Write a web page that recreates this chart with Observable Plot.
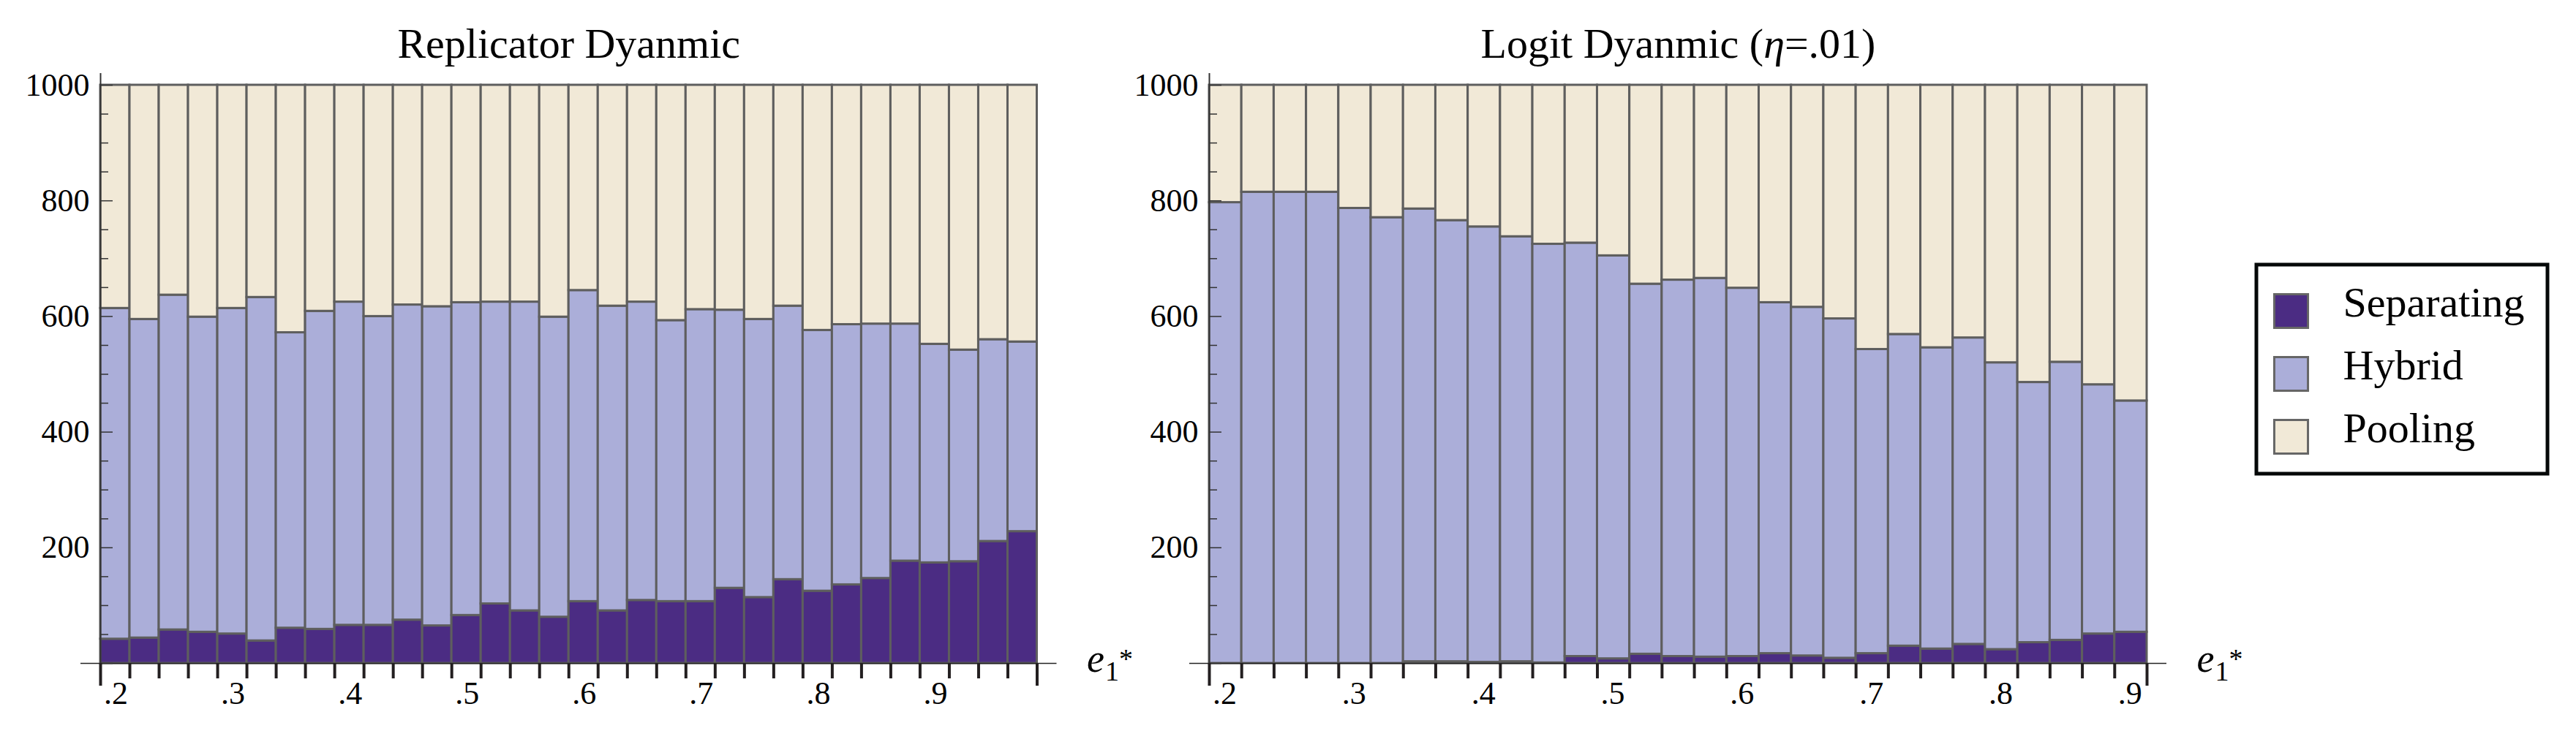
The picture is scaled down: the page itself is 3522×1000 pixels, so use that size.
<!DOCTYPE html>
<html>
<head>
<meta charset="utf-8">
<script src="https://cdn.jsdelivr.net/npm/d3@7"></script>
<script src="https://cdn.jsdelivr.net/npm/@observablehq/plot@0.6"></script>
<style>
  html, body { margin: 0; padding: 0; background: #ffffff; }
  #chart { position: relative; width: 3522px; height: 1000px; background: #ffffff; overflow: hidden; }
  #chart svg { position: absolute; top: 0; }
  #chart svg text { font-family: 'Liberation Serif', 'Times New Roman', Times, serif; }
</style>
</head>
<body>
<div id="chart"></div>
<script>
// ---------- data ----------
const types = ["Separating", "Hybrid", "Pooling"];
const typeColors = ["#4b2c83", "#abaed9", "#f1e9d7"];

const leftTitle = "Replicator Dyanmic";
const leftBinWidth = 0.025;
const leftBins = [0.200, 0.225, 0.250, 0.275, 0.300, 0.325, 0.350, 0.375, 0.400, 0.425, 0.450, 0.475,
                  0.500, 0.525, 0.550, 0.575, 0.600, 0.625, 0.650, 0.675, 0.700, 0.725, 0.750, 0.775,
                  0.800, 0.825, 0.850, 0.875, 0.900, 0.925, 0.950, 0.975];
const leftSeparating = [42, 44, 58, 54, 51, 39, 61, 59, 66, 66, 75, 65, 83, 103, 91, 80,
                        107, 91, 109, 107, 107, 130, 114, 145, 125, 136, 147, 177, 174, 176, 211, 228];
const leftHybrid = [572, 551, 579, 545, 563, 594, 511, 550, 559, 534, 545, 552, 541, 522, 534, 519,
                    538, 527, 516, 486, 505, 481, 481, 473, 451, 450, 440, 410, 378, 366, 349, 328];
const leftPooling = [386, 405, 363, 401, 386, 367, 428, 391, 375, 400, 380, 383, 376, 375, 375, 401,
                     355, 382, 375, 407, 388, 389, 405, 382, 424, 414, 413, 413, 448, 458, 440, 444];
const leftXLabels = [0.2, 0.3, 0.4, 0.5, 0.6, 0.7, 0.8, 0.9];
const leftYLabels = [200, 400, 600, 800, 1000];

const rightTitle = "Logit Dyanmic (η=.01)";
const rightBinWidth = 0.025;
const rightBins = [0.200, 0.225, 0.250, 0.275, 0.300, 0.325, 0.350, 0.375, 0.400, 0.425, 0.450, 0.475,
                   0.500, 0.525, 0.550, 0.575, 0.600, 0.625, 0.650, 0.675, 0.700, 0.725, 0.750, 0.775,
                   0.800, 0.825, 0.850, 0.875, 0.900];
const rightSeparating = [0, 0, 0, 0, 0, 0, 3, 3, 2, 3, 1, 12, 8, 16, 12, 11, 12, 17, 13, 9,
                         17, 30, 25, 33, 24, 36, 40, 51, 54];
const rightHybrid = [797, 815, 815, 815, 787, 771, 783, 763, 753, 735, 724, 715, 697, 640, 651, 655,
                     637, 607, 603, 587, 526, 539, 521, 530, 496, 450, 481, 431, 400];
const rightPooling = [203, 185, 185, 185, 213, 229, 214, 234, 245, 262, 275, 273, 295, 344, 337, 334,
                      351, 376, 384, 404, 457, 431, 454, 437, 480, 514, 479, 518, 546];
const rightXLabels = [0.2, 0.3, 0.4, 0.5, 0.6, 0.7, 0.8, 0.9];
const rightYLabels = [200, 400, 600, 800, 1000];

const yMajorTicks = [0, 200, 400, 600, 800, 1000];
const yMinorTicks = [50, 100, 150, 250, 300, 350, 450, 500, 550, 650, 700, 750, 850, 900, 950];

// ---------- helpers ----------
const fontFamily = "'Liberation Serif', 'Times New Roman', Times, serif";
const fmtX = d => d3.format(".1f")(d).replace(/^0/, "");
const fmtY = d => String(d);

function rowsFor(bins, width, sep, hyb, pool) {
  const rows = [];
  bins.forEach((b, i) => {
    const series = [sep[i], hyb[i], pool[i]];
    types.forEach((t, k) => {
      if (series[k] > 0) rows.push({x1: b, x2: b + width, type: t, count: series[k]});
    });
  });
  return rows;
}

function panel({bins, binWidth, sep, hyb, pool, title, xLabels, yLabels, width, marginLeft, marginRight, left}) {
  const rows = rowsFor(bins, binWidth, sep, hyb, pool);
  const xDomain = [bins[0], bins[bins.length - 1] + binWidth];
  const edges = bins.slice(1);
  const innerW = width - marginLeft - marginRight;
  const svg = Plot.plot({
    width,
    height: 1000,
    marginLeft,
    marginRight,
    marginTop: 116,
    marginBottom: 93,
    style: {fontFamily, fontSize: "44px", background: "transparent", overflow: "visible", color: "#000"},
    x: {domain: xDomain, label: null},
    y: {domain: [0, 1000], label: null},
    color: {domain: types, range: typeColors},
    marks: [
      Plot.rectY(rows, {x1: "x1", x2: "x2", y: "count", fill: "type", stroke: "#5e5e5e", strokeWidth: 3}),
      Plot.ruleY([0], {stroke: "#222", strokeWidth: 1.5, insetLeft: -27, insetRight: -27}),
      Plot.ruleX([xDomain[0]], {stroke: "#333", strokeWidth: 2, insetTop: -16}),
      Plot.tickY(yMinorTicks, {y: d => d, stroke: "#333", strokeWidth: 1.5, insetRight: innerW - 11}),
      Plot.tickY(yMajorTicks, {y: d => d, stroke: "#333", strokeWidth: 1.5, insetRight: innerW - 17}),
      Plot.axisX({ticks: edges, tickSize: 21, strokeWidth: 4, stroke: "#231f20", tickFormat: () => "", label: null}),
      Plot.axisX({ticks: xDomain, tickSize: 31, strokeWidth: 4, stroke: "#231f20", tickFormat: () => "", label: null}),
      Plot.axisX({ticks: xLabels, tickSize: 0, tickPadding: 24, dx: 21, tickFormat: fmtX, label: null, fontSize: 44, fontFamily, fill: "#000"}),
      Plot.axisY({ticks: yLabels, tickSize: 0, tickPadding: 15, tickFormat: fmtY, label: null, fontSize: 44, fontFamily, fill: "#000"}),
      Plot.text([title], {frameAnchor: "top", dy: -38, lineAnchor: "bottom", fontSize: 58, fontFamily}),
      Plot.text(["e"], {frameAnchor: "bottom-right", textAnchor: "start", lineAnchor: "bottom", dx: 68, dy: 11, fontSize: 54, fontFamily})
    ]
  });
  svg.style.left = left + "px";
  const texts = d3.select(svg).selectAll("text");
  // italic eta in title
  texts.filter(function () { return this.textContent === title && title.includes("η"); })
    .each(function () {
      const t = d3.select(this);
      const [a, b] = title.split("η");
      t.text(null);
      t.append("tspan").text(a);
      t.append("tspan").attr("font-style", "italic").text("η");
      t.append("tspan").text(b);
    });
  // axis label e₁* as one text with sub/superscript
  texts.filter(function () { return this.textContent === "e"; })
    .each(function () {
      const t = d3.select(this);
      t.text(null);
      t.append("tspan").attr("font-style", "italic").text("e");
      t.append("tspan").attr("font-size", 38).attr("dx", 1).attr("dy", 12).text("1");
      t.append("tspan").attr("font-size", 38).attr("dx", 0).attr("dy", -17).text("*");
    });
  return svg;
}

const chart = document.getElementById("chart");

chart.appendChild(panel({
  bins: leftBins, binWidth: leftBinWidth, sep: leftSeparating, hyb: leftHybrid, pool: leftPooling,
  title: leftTitle, xLabels: leftXLabels, yLabels: leftYLabels,
  width: 1500, marginLeft: 137, marginRight: 82.5, left: 0
}));

chart.appendChild(panel({
  bins: rightBins, binWidth: rightBinWidth, sep: rightSeparating, hyb: rightHybrid, pool: rightPooling,
  title: rightTitle, xLabels: rightXLabels, yLabels: rightYLabels,
  width: 1500, marginLeft: 153, marginRight: 65, left: 1500
}));

// ---------- legend ----------
const legend = Plot.plot({
  width: 403,
  height: 291,
  margin: 0,
  style: {fontFamily, fontSize: "58px", background: "#ffffff", overflow: "visible", color: "#000"},
  x: {domain: [0, 1], axis: null},
  y: {type: "point", domain: types, range: [65.5, 238], padding: 0, axis: null},
  color: {domain: types, range: typeColors},
  marks: [
    Plot.frame({stroke: "#050808", strokeWidth: 5, inset: 2.5}),
    Plot.dot(types, {frameAnchor: "left", y: d => d, dx: 50, symbol: "square", r: 26, fill: d => d, stroke: "#666", strokeWidth: 3}),
    Plot.text(types, {frameAnchor: "left", y: d => d, dx: 121, dy: 7, textAnchor: "start", lineAnchor: "bottom", fontSize: 58, fontFamily})
  ]
});
legend.style.left = "3082px";
legend.style.top = "359px";
chart.appendChild(legend);
</script>
</body>
</html>
